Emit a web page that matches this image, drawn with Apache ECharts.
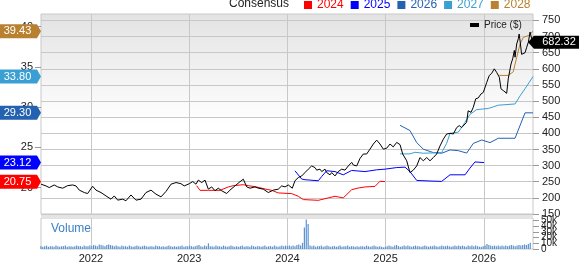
<!DOCTYPE html>
<html><head><meta charset="utf-8">
<script src="https://cdn.jsdelivr.net/npm/echarts@6/dist/echarts.min.js"></script>
<style>html,body{margin:0;padding:0;background:#fff}#c{width:579px;height:264px}</style>
</head><body><div id="c"></div>
<script>
const FONT = '"Liberation Sans", Arial, sans-serif';
// ---- data ----
const yearTicks = [2022, 2023, 2024, 2025, 2026];
const priceTicks = [150, 200, 250, 300, 350, 400, 450, 500, 550, 600, 650, 700, 750];
const epsTicks = [20, 25, 30, 35, 40];
const volumeTicks = [0, 10, 20, 30, 40, 50];

const priceYears = [2021.491,2021.542,2021.575,2021.626,2021.661,2021.712,2021.763,2021.814,2021.847,2021.881,2021.932,2021.966,2022.017,2022.051,2022.102,2022.153,2022.204,2022.237,2022.272,2022.323,2022.356,2022.407,2022.458,2022.509,2022.560,2022.611,2022.662,2022.713,2022.764,2022.815,2022.866,2022.916,2022.950,2023.001,2023.036,2023.069,2023.093,2023.127,2023.161,2023.195,2023.229,2023.263,2023.296,2023.331,2023.382,2023.415,2023.466,2023.517,2023.551,2023.586,2023.619,2023.670,2023.704,2023.755,2023.806,2023.856,2023.907,2023.942,2023.976,2024.009,2024.050,2024.077,2024.111,2024.146,2024.179,2024.213,2024.247,2024.281,2024.298,2024.332,2024.350,2024.383,2024.400,2024.434,2024.451,2024.485,2024.518,2024.553,2024.587,2024.620,2024.655,2024.671,2024.706,2024.739,2024.773,2024.807,2024.841,2024.875,2024.909,2024.943,2024.977,2025.011,2025.045,2025.078,2025.113,2025.147,2025.174,2025.215,2025.248,2025.282,2025.317,2025.350,2025.367,2025.384,2025.419,2025.452,2025.486,2025.520,2025.554,2025.588,2025.622,2025.656,2025.690,2025.724,2025.750,2025.774,2025.790,2025.825,2025.841,2025.870,2025.893,2025.918,2025.944,2025.971,2025.995,2026.030,2026.055,2026.080,2026.107,2026.131,2026.158,2026.175,2026.199,2026.233,2026.249,2026.277,2026.294,2026.311,2026.318,2026.335,2026.351,2026.360,2026.372,2026.385,2026.420,2026.437,2026.454,2026.471,2026.488,2026.501];
const priceValues = [242.5,237,232,240,234,230,238,240,237,224,216.5,213.5,236,224,216.5,206,196,206,193,196,191,209,193,196,216.5,224,211.5,203,220,242.5,247.5,244,237,244,250.5,242.5,255,247.5,255,227,234,222,230,222,213.5,224,237,250,258,234,230,234,230,227,216.5,224,227,237,234,240,230,253,263,268,278.5,289,299,294,286,289,281.5,289,278.5,271.5,278.5,268,281.5,289,286,299,310,302,299,322,336,336,351,367,379,367,351,354,367,358,372,365,336,315,278.5,286,299,325,330,315,325,315,325,336,361,382,398,400,398,418,424,418,413,434,470,465,481,507,510,522,527,558,579,586,600,589,574,538,532.5,524,569,615,631,657,636,677,693,708,680,645,650,667,683,714,693,682.32];

const eps2024Years = [2023.076,2023.110,2023.195,2023.314,2023.398,2023.449,2023.551,2023.602,2023.687,2023.772,2023.840,2023.907,2024.044,2024.111,2024.162,2024.315,2024.417,2024.485,2024.518,2024.569,2024.655,2024.722,2024.790,2024.892,2024.943,2024.994];
const eps2024Values = [20.25,19.67,19.67,19.67,20.09,20.25,20.37,20.25,20.09,19.84,19.67,19.35,19.26,18.93,18.52,18.43,18.73,18.93,18.85,18.73,19.75,19.96,20.09,20.16,20.8,20.75];
const eps2025Years = [2024.077,2024.146,2024.179,2024.315,2024.350,2024.400,2024.485,2024.569,2024.655,2024.790,2024.909,2024.994,2025.113,2025.198,2025.248,2025.317,2025.452,2025.571,2025.656,2025.809,2025.859,2025.910,2026.002];
const eps2025Values = [22.1,21.07,20.99,20.86,21.4,22.1,22.0,21.6,22.14,22.0,22.22,22.3,22.5,22.55,22.0,20.9,20.83,20.78,21.6,21.6,22.43,23.2,23.12];
const eps2026Years = [2025.147,2025.248,2025.317,2025.384,2025.486,2025.571,2025.656,2025.740,2025.826,2025.893,2025.979,2026.063,2026.148,2026.318,2026.420,2026.501];
const eps2026Values = [27.75,27.1,25.6,24.78,24.36,24.28,24.69,24.6,24.3,25.5,25.93,25.6,26.14,26.14,29.3,29.30];
const eps2027Years = [2025.147,2025.248,2025.299,2025.384,2025.571,2025.622,2025.656,2025.740,2025.790,2025.859,2025.927,2026.045,2026.096,2026.148,2026.318,2026.369,2026.420,2026.501];
const eps2027Values = [24.2,24.2,24.4,24.28,24.36,25.52,26.75,26.9,27.78,29.1,29.7,29.84,30.04,30.25,30.4,31.4,32.3,33.80];
const eps2028Years = [2026.158,2026.249,2026.300,2026.335,2026.369,2026.403,2026.454,2026.501];
const eps2028Values = [33.95,33.95,34.4,36.2,37.86,38.68,38.9,39.43];

// weekly volume (thousands), first week mid-2021
const volumeStart = 2021.49;
const volumeValues = [
5,4,5,6,4,5,5,4,6,5,4,5,5,6,4,5,5,4,5,6,5,5,4,6,5,5,
6,5,7,6,5,8,7,6,5,7,8,7,6,
5,6,5,4,6,5,5,4,6,5,4,5,6,
5,4,5,6,5,4,5,5,4,6,5,5,4,
5,4,5,6,5,4,5,4,5,5,6,4,5,
5,6,5,4,5,6,7,5,4,6,5,10,5,
5,4,6,5,5,4,6,5,4,5,6,5,4,
5,4,5,6,4,5,5,4,6,5,4,5,5,
4,5,6,4,5,5,4,6,5,4,5,6,5,
6,5,6,5,6,5,7,8,6,11,38,52,44,
6,5,6,4,5,5,6,4,5,6,5,4,5,
5,4,5,6,4,5,5,6,4,5,5,4,5,
4,5,5,4,6,5,4,5,6,5,4,5,4,
3,4,5,6,5,4,6,7,5,4,5,6,5,
6,5,4,5,6,5,5,4,5,6,5,4,5,
5,6,5,4,5,6,5,5,6,5,4,5,6,
5,6,5,6,5,4,6,5,6,5,6,5,4,
4,5,6,9,7,6,5,6,5,6,5,6,5,
6,5,6,7,6,5,6,7,6,7,8,7,9,11];

const xMin = 2021.491, xMax = 2026.501;
const priceMin = 150, priceMax = 770;
const epsMin = 16.73, epsMax = 41.58;
const volMax = 54.8;

const epsSeries = [
  {name:'2024', years:eps2024Years, values:eps2024Values, color:'#ff0000'},
  {name:'2025', years:eps2025Years, values:eps2025Values, color:'#0000ff'},
  {name:'2026', years:eps2026Years, values:eps2026Values, color:'#2461b0'},
  {name:'2027', years:eps2027Years, values:eps2027Values, color:'#3a9fd3'},
  {name:'2028', years:eps2028Years, values:eps2028Values, color:'#b8802f'}
];
const zip = (a, b) => a.map((v, i) => [v, b[i]]);
const WEEK = 7 / 365.25;

const chart = echarts.init(document.getElementById('c'), null, {renderer: 'canvas'});
const axisLabelBase = {fontFamily: FONT, fontSize: 11, color: '#222'};
const noLine = {show: false, onZero: false};

const option = {
  animation: false,
  textStyle: {fontFamily: FONT},
  title: [
    {text: 'Consensus', left: 229, top: -2, padding: 0, textStyle: {fontFamily: FONT, fontSize: 12, fontWeight: 'normal', color: '#222'}},
    {text: 'Volume', left: 51, top: 223, padding: 0, textStyle: {fontFamily: FONT, fontSize: 12, fontWeight: 'normal', color: '#3a7fc4'}}
  ],
  legend: [
    {left: 304, top: -1, padding: 0, itemWidth: 8, itemHeight: 8, itemGap: 7, icon: 'rect', selectedMode: false,
     textStyle: {fontFamily: FONT, fontSize: 12},
     data: epsSeries.map(s => ({name: s.name, textStyle: {color: s.color}, itemStyle: {color: s.color}}))},
    {left: 470, top: 20, padding: 0, itemWidth: 9, itemHeight: 4, icon: 'rect', selectedMode: false,
     textStyle: {fontFamily: FONT, fontSize: 10, color: '#222'},
     data: [{name: 'Price ($)', itemStyle: {color: '#000'}}]}
  ],
  grid: [
    {left: 41, right: 46, top: 14, height: 200, show: true, borderColor: '#c8c8c8', borderWidth: 1,
     backgroundColor: new echarts.graphic.LinearGradient(0, 0, 0, 1, [
       {offset: 0, color: '#e3e3e3'}, {offset: 0.55, color: '#ffffff'}, {offset: 1, color: '#ffffff'}])},
    {left: 41, right: 46, top: 218, bottom: 12, show: true, borderColor: '#c8c8c8', borderWidth: 1, backgroundColor: '#fff'}
  ],
  xAxis: [
    {type: 'value', gridIndex: 0, min: xMin, max: xMax,
     axisLine: noLine, axisLabel: {show: false},
     axisTick: {show: false, customValues: yearTicks},
     splitLine: {show: true, lineStyle: {color: '#c8c8c8', width: 1}}},
    {type: 'value', gridIndex: 1, min: xMin, max: xMax, position: 'bottom',
     axisLine: noLine,
     axisTick: {show: false, customValues: yearTicks},
     axisLabel: Object.assign({customValues: yearTicks, margin: 4, formatter: v => String(v)}, axisLabelBase),
     splitLine: {show: true, lineStyle: {color: '#c8c8c8', width: 1}}}
  ],
  yAxis: [
    {type: 'value', gridIndex: 0, position: 'right', min: priceMin, max: priceMax,
     axisLine: noLine,
     axisTick: {show: true, length: 6, customValues: priceTicks, lineStyle: {color: '#999'}},
     axisLabel: Object.assign({customValues: priceTicks, margin: 9}, axisLabelBase),
     splitLine: {show: true, lineStyle: {color: '#c8c8c8', width: 1}}},
    {type: 'value', gridIndex: 0, position: 'left', min: epsMin, max: epsMax,
     axisLine: noLine,
     axisTick: {show: true, length: 6, customValues: epsTicks, lineStyle: {color: '#999'}},
     axisLabel: Object.assign({customValues: epsTicks, margin: 8}, axisLabelBase),
     splitLine: {show: false}},
    {type: 'value', gridIndex: 1, position: 'right', min: 0, max: volMax,
     axisLine: noLine,
     axisTick: {show: true, length: 6, customValues: volumeTicks, lineStyle: {color: '#999'}},
     axisLabel: {show: false},
     splitLine: {show: false}}
  ],
  series: [
    {name: 'Volume', type: 'bar', xAxisIndex: 1, yAxisIndex: 2, barWidth: 1.2,
     itemStyle: {color: '#5b93d0'},
     data: volumeValues.map((v, i) => [volumeStart + i * WEEK, v])},
    ...epsSeries.map(s => ({name: s.name, type: 'line', xAxisIndex: 0, yAxisIndex: 1, symbol: 'none',
      lineStyle: {color: s.color, width: 1}, itemStyle: {color: s.color}, data: zip(s.years, s.values), z: 3})),
    {name: 'Price ($)', type: 'line', xAxisIndex: 0, yAxisIndex: 0, symbol: 'none',
     lineStyle: {color: '#000', width: 1}, itemStyle: {color: '#000'}, data: zip(priceYears, priceValues), z: 4}
  ]
};
chart.setOption(option);

// flags, volume tick labels and separator, positioned through the library's scales
const gx0 = chart.convertToPixel({xAxisIndex: 0}, xMin);
const gx1 = chart.convertToPixel({xAxisIndex: 0}, xMax);
const gBottom = chart.convertToPixel({yAxisIndex: 0}, priceMin);
const vTop = chart.convertToPixel({yAxisIndex: 2}, volMax);
const graphics = [
  {type: 'rect', shape: {x: gx0, y: gBottom + 1, width: gx1 - gx0, height: vTop - gBottom - 1}, style: {fill: '#e4e4e4'}, z: 50}
];
volumeTicks.forEach(v => {
  const y = chart.convertToPixel({yAxisIndex: 2}, v);
  graphics.push({type: 'text', x: gx1 + 8, y: y, style: {text: v === 0 ? '0' : v + 'k', fill: '#222', fontFamily: FONT, fontSize: 10, align: 'left', verticalAlign: 'middle'}, z: 60});
});
epsSeries.forEach(s => {
  const v = s.values[s.values.length - 1];
  const y = chart.convertToPixel({yAxisIndex: 1}, v);
  graphics.push({type: 'polygon', shape: {points: [[0, y - 7], [gx0 - 4, y - 7], [gx0, y], [gx0 - 4, y + 7], [0, y + 7]]}, style: {fill: s.color}, z: 100});
  graphics.push({type: 'text', x: 17.5, y: y, style: {text: v.toFixed(2), fill: '#fff', fontFamily: FONT, fontSize: 11, align: 'center', verticalAlign: 'middle'}, z: 101});
});
const lastPrice = priceValues[priceValues.length - 1];
const py = chart.convertToPixel({yAxisIndex: 0}, lastPrice);
graphics.push({type: 'polygon', shape: {points: [[gx1 - 5, py], [gx1 + 1, py - 6.5], [579, py - 6.5], [579, py + 6.5], [gx1 + 1, py + 6.5]]}, style: {fill: '#000'}, z: 100});
graphics.push({type: 'text', x: 559, y: py, style: {text: lastPrice.toFixed(2), fill: '#fff', fontFamily: FONT, fontSize: 11, align: 'center', verticalAlign: 'middle'}, z: 101});
chart.setOption({graphic: graphics});
</script>
</body></html>
